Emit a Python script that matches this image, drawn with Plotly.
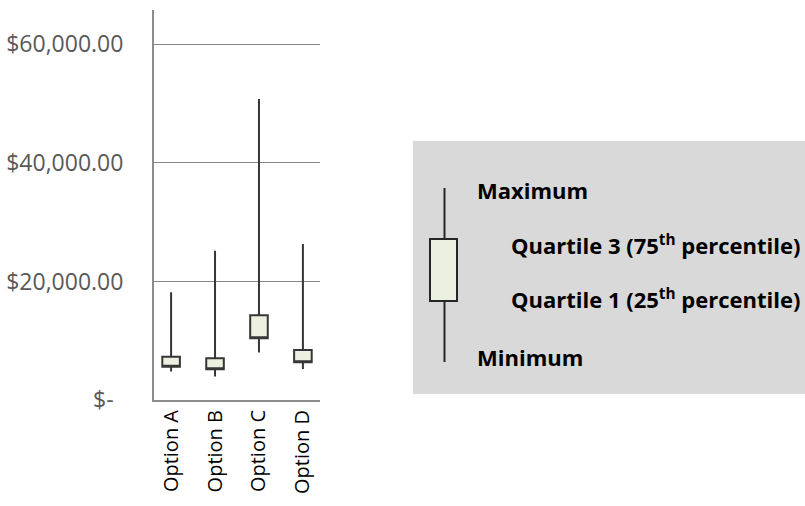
import plotly.graph_objects as go

# ---- data ----
categories = ["Option A", "Option B", "Option C", "Option D"]
minimum = [4800, 3950, 8000, 5250]
quartile1 = [5600, 5200, 10400, 6350]
quartile3 = [7300, 7050, 14300, 8450]
maximum = [18200, 25200, 50800, 26300]

tick_vals = [0, 20000, 40000, 60000]
tick_text = ["$-\u00a0\u2009", "$20,000.00", "$40,000.00", "$60,000.00"]

legend_labels = ["Maximum", "Quartile 3 (75<sup>th</sup> percentile)",
                 "Quartile 1 (25<sup>th</sup> percentile)", "Minimum"]

W, H = 805, 506
L, R, T, B = 154, 485, 10, 106
PW, PH = W - L - R, H - T - B


def px(x):
    return (x - L) / PW


def py(y):
    return (H - B - y) / PH


LINE = "#363636"
FILL = "#EBF0E0"

fig = go.Figure()
fig.add_trace(go.Box(
    x=categories,
    q1=quartile1,
    median=quartile1,
    q3=quartile3,
    lowerfence=minimum,
    upperfence=maximum,
    fillcolor=FILL,
    line=dict(color=LINE, width=2),
    whiskerwidth=0,
    width=0.4,
    boxpoints=False,
    showlegend=False,
    hoverinfo="skip",
))

shapes = [
    # legend panel
    dict(type="rect", xref="paper", yref="paper",
         x0=px(413), x1=px(806), y0=py(394), y1=py(141),
         fillcolor="#D9D9D9", line=dict(width=0), layer="below"),
    # legend whisker
    dict(type="line", xref="paper", yref="paper",
         x0=px(444.5), x1=px(444.5), y0=py(362), y1=py(188),
         line=dict(color="#262626", width=2)),
    # legend box
    dict(type="rect", xref="paper", yref="paper",
         x0=px(430), x1=px(457), y0=py(301), y1=py(239),
         fillcolor=FILL, line=dict(color="#262626", width=2)),
]

ann_pos = [(475, 190), (509, 244), (509, 298), (475, 357)]
annotations = []
for (ax, ay), lab in zip(ann_pos, legend_labels):
    annotations.append(dict(
        xref="paper", yref="paper", x=px(ax), y=py(ay),
        xanchor="left", yanchor="middle", showarrow=False,
        text="<b>" + lab + "</b>",
        font=dict(family="Open Sans", size=22, color="#000000"),
    ))

fig.update_layout(
    width=W, height=H,
    margin=dict(l=L, r=R, t=T, b=B, pad=0, autoexpand=False),
    paper_bgcolor="white", plot_bgcolor="white",
    font=dict(family="Open Sans", size=20, color="#595959"),
    shapes=shapes,
    annotations=annotations,
    showlegend=False,
)
fig.update_xaxes(
    type="category", tickangle=-90, automargin=False,
    showline=True, linecolor="#8c8c8c", linewidth=2,
    showgrid=False, ticks="",
    tickfont=dict(family="Open Sans", size=20, color="#000000"),
)
fig.update_yaxes(
    range=[0, 65800], automargin=False,
    tickvals=tick_vals, ticktext=tick_text,
    showline=True, linecolor="#8c8c8c", linewidth=2,
    showgrid=True, gridcolor="#868686", gridwidth=1,
    zeroline=False, ticks="",
    ticklabelstandoff=24,
    tickfont=dict(family="Open Sans", size=23, color="#595959"),
)

fig.write_html(
    "out.html",
    config={"displayModeBar": False},
    post_script="document.body.style.margin='0';document.body.style.padding='0';"
                "document.body.style.overflow='hidden';"
                "document.documentElement.style.overflow='hidden';",
)
